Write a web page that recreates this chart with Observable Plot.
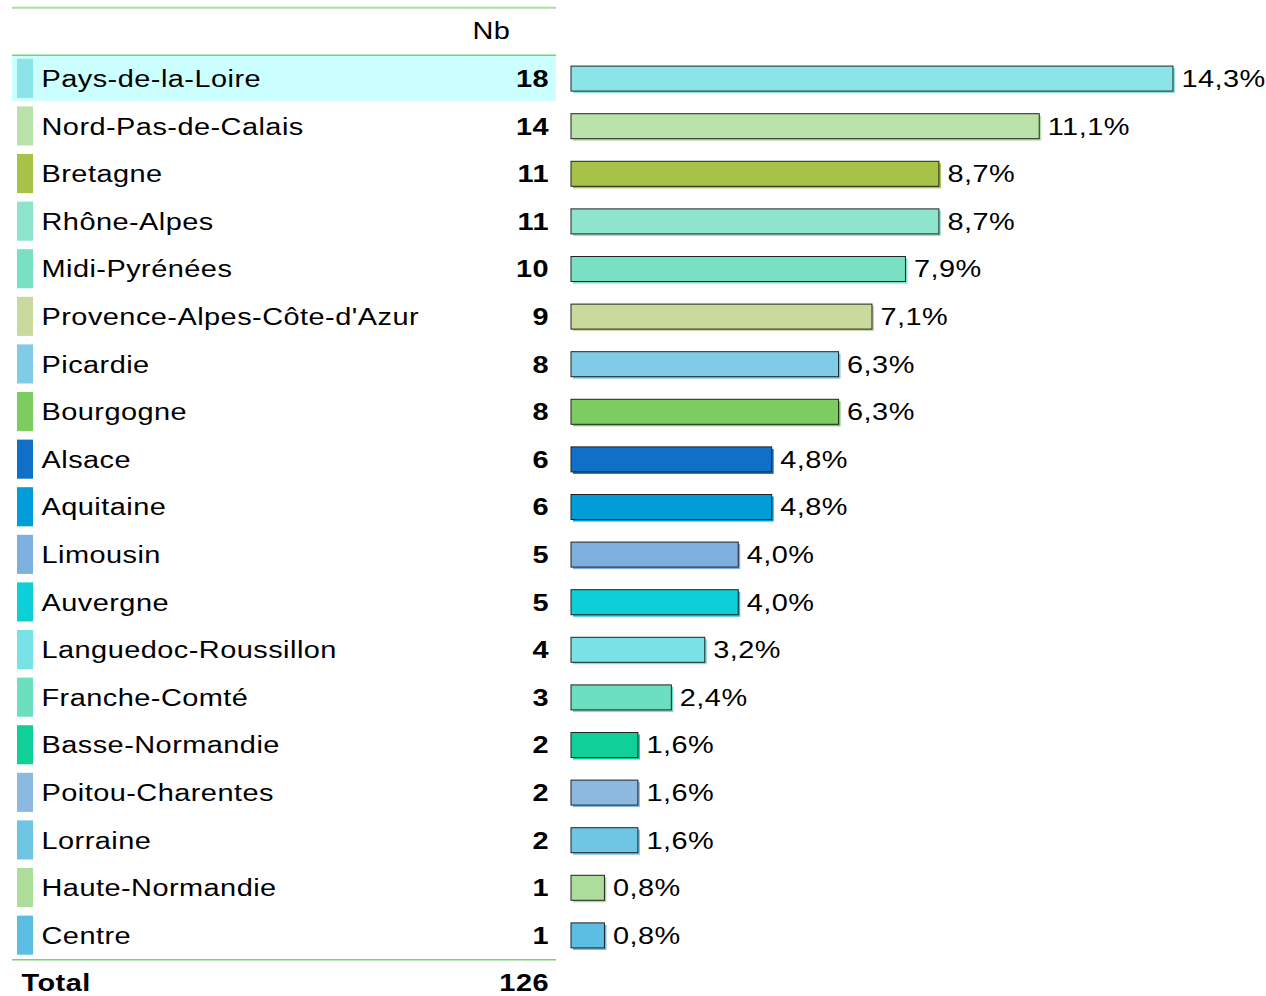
<!DOCTYPE html>
<html>
<head>
<meta charset="utf-8">
<script src="https://cdn.jsdelivr.net/npm/d3@7"></script>
<script src="https://cdn.jsdelivr.net/npm/@observablehq/plot@0.6"></script>
<style>
  html, body { margin: 0; padding: 0; background: #fff; }
  #chart svg { display: block; }
</style>
</head>
<body>
<div id="chart"></div>
<script>
const regions = [
  "Pays-de-la-Loire", "Nord-Pas-de-Calais", "Bretagne", "Rhône-Alpes", "Midi-Pyrénées",
  "Provence-Alpes-Côte-d'Azur", "Picardie", "Bourgogne", "Alsace", "Aquitaine",
  "Limousin", "Auvergne", "Languedoc-Roussillon", "Franche-Comté", "Basse-Normandie",
  "Poitou-Charentes", "Lorraine", "Haute-Normandie", "Centre"
];
const counts = [18, 14, 11, 11, 10, 9, 8, 8, 6, 6, 5, 5, 4, 3, 2, 2, 2, 1, 1];
const pctLabels = [
  "14,3%", "11,1%", "8,7%", "8,7%", "7,9%", "7,1%", "6,3%", "6,3%", "4,8%", "4,8%",
  "4,0%", "4,0%", "3,2%", "2,4%", "1,6%", "1,6%", "1,6%", "0,8%", "0,8%"
];
const colors = [
  "#8be4e8", "#bbe2aa", "#a6c348", "#8ee4cc", "#7ae0c4", "#cad99e", "#80cce6", "#7ccc5f",
  "#1070c8", "#009dd8", "#7db0df", "#0dcfd8", "#78e2e6", "#6cdfc0", "#10cf98", "#8cb9e0",
  "#6ec6e4", "#acdd9a", "#5cbee2"
];
const headerLabel = "Nb";
const totalLabel = "Total";
const totalValue = 126;

const data = regions.map((region, i) => ({region, nb: counts[i], pct: pctLabels[i], color: colors[i]}));

const HEADER = "__header", TOTAL = "__total";
const yDomain = [HEADER, ...regions, TOTAL];
const W = 1266, H = 996;
const rowH = 47.6;
const half = rowH / 2;
const tableLeft = 12, tableRight = 556;
const textStretch = 1.18;

const chart = Plot.plot({
  width: W,
  height: H,
  margin: 0,
  style: {fontFamily: "'Liberation Sans', Arial, sans-serif", fontSize: "24.5px", letterSpacing: "0.4px", color: "#000", background: "#fff"},
  x: {domain: [0, 18], range: [571, 1173], axis: null},
  y: {type: "band", domain: yDomain, range: [7.2, 7.2 + rowH * yDomain.length], padding: 0, round: false, axis: null},
  marks: [
    // highlighted first row
    Plot.cell([regions[0]], {y: d => d, fill: "#ccffff", insetLeft: tableLeft, insetRight: W - tableRight, insetTop: 1, insetBottom: 1.5}),
    // table lines
    Plot.ruleY([HEADER], {y: d => d, dy: -half, stroke: "#a8e0a0", strokeWidth: 2, insetLeft: tableLeft, insetRight: W - tableRight}),
    Plot.ruleY([regions[0], TOTAL], {y: d => d, dy: -half, stroke: "#74d474", strokeWidth: 1.5, insetLeft: tableLeft, insetRight: W - tableRight}),
    // swatches
    Plot.cell(data, {y: "region", fill: "color", insetLeft: 17, insetRight: W - 33, insetTop: 4, insetBottom: 4.5}),
    // region names
    Plot.text(data, {y: "region", text: "region", frameAnchor: "left", dx: 41, textAnchor: "start", fill: "#000"}),
    // counts
    Plot.text(data, {y: "region", text: d => String(d.nb), frameAnchor: "left", dx: 548.5, textAnchor: "end", fontWeight: "bold", fill: "#000"}),
    // header
    Plot.text([headerLabel], {y: () => HEADER, text: d => d, frameAnchor: "left", dx: 472, textAnchor: "start", fill: "#000"}),
    // total
    Plot.text([totalLabel], {y: () => TOTAL, text: d => d, frameAnchor: "left", dx: 21, textAnchor: "start", fontWeight: "bold", fill: "#000"}),
    Plot.text([totalValue], {y: () => TOTAL, text: d => String(d), frameAnchor: "left", dx: 548.5, textAnchor: "end", fontWeight: "bold", fill: "#000"}),
    // bar shadows
    Plot.barX(data, {x: "nb", y: "region", fill: "color", insetTop: 11.3, insetBottom: 11.3, dx: 2, dy: 2}),
    // bars
    Plot.barX(data, {x: "nb", y: "region", fill: "color", stroke: "#222", strokeWidth: 1, insetTop: 11.3, insetBottom: 11.3}),
    // axis line
    Plot.ruleX(data, {x: () => 0, y: "region", stroke: "#333", strokeWidth: 1}),
    // percent labels
    Plot.text(data, {x: "nb", y: "region", text: "pct", dx: 8, textAnchor: "start", fill: "#000"})
  ]
});
// the reference's lettering is horizontally widened: stretch each label about its anchor
chart.querySelectorAll("text").forEach(t => {
  const tr = t.getAttribute("transform") || "";
  t.setAttribute("transform", `${tr} scale(${textStretch},1)`);
});
document.getElementById("chart").appendChild(chart);
</script>
</body>
</html>
